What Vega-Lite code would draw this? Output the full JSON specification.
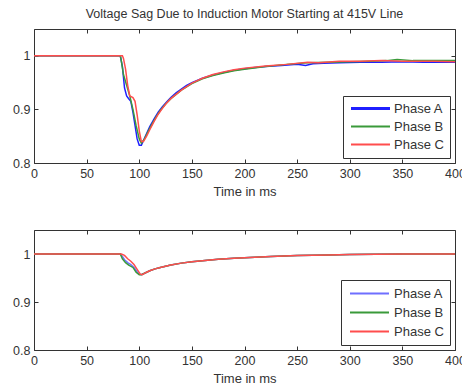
{
  "$schema": "https://vega.github.io/schema/vega-lite/v6.json",
  "padding": {"left": 12, "top": 7, "right": 0, "bottom": 0},
  "background": "white",
  "bounds": "flush",
  "spacing": 67,
  "datasets": {
    "top": [
      {"t":0,"v":1,"p":"Phase A"},{"t":82,"v":1,"p":"Phase A"},{"t":84,"v":0.98,"p":"Phase A"},{"t":86,"v":0.94,"p":"Phase A"},{"t":88,"v":0.925,"p":"Phase A"},{"t":90,"v":0.92,"p":"Phase A"},{"t":92,"v":0.915,"p":"Phase A"},{"t":94,"v":0.895,"p":"Phase A"},{"t":96,"v":0.87,"p":"Phase A"},{"t":98,"v":0.845,"p":"Phase A"},{"t":100,"v":0.833,"p":"Phase A"},{"t":102,"v":0.833,"p":"Phase A"},{"t":104,"v":0.842,"p":"Phase A"},{"t":107,"v":0.855,"p":"Phase A"},{"t":110,"v":0.868,"p":"Phase A"},{"t":114,"v":0.882,"p":"Phase A"},{"t":118,"v":0.895,"p":"Phase A"},{"t":122,"v":0.905,"p":"Phase A"},{"t":126,"v":0.914,"p":"Phase A"},{"t":130,"v":0.922,"p":"Phase A"},{"t":135,"v":0.931,"p":"Phase A"},{"t":140,"v":0.938,"p":"Phase A"},{"t":145,"v":0.945,"p":"Phase A"},{"t":150,"v":0.95,"p":"Phase A"},{"t":160,"v":0.958,"p":"Phase A"},{"t":170,"v":0.964,"p":"Phase A"},{"t":180,"v":0.969,"p":"Phase A"},{"t":190,"v":0.973,"p":"Phase A"},{"t":200,"v":0.976,"p":"Phase A"},{"t":210,"v":0.978,"p":"Phase A"},{"t":220,"v":0.98,"p":"Phase A"},{"t":235,"v":0.982,"p":"Phase A"},{"t":250,"v":0.984,"p":"Phase A"},{"t":258,"v":0.982,"p":"Phase A"},{"t":265,"v":0.985,"p":"Phase A"},{"t":275,"v":0.986,"p":"Phase A"},{"t":290,"v":0.987,"p":"Phase A"},{"t":310,"v":0.988,"p":"Phase A"},{"t":330,"v":0.988,"p":"Phase A"},{"t":350,"v":0.989,"p":"Phase A"},{"t":370,"v":0.988,"p":"Phase A"},{"t":400,"v":0.988,"p":"Phase A"},
      {"t":0,"v":1,"p":"Phase B"},{"t":82,"v":1,"p":"Phase B"},{"t":83,"v":0.99,"p":"Phase B"},{"t":85,"v":0.965,"p":"Phase B"},{"t":88,"v":0.945,"p":"Phase B"},{"t":91,"v":0.925,"p":"Phase B"},{"t":94,"v":0.9,"p":"Phase B"},{"t":97,"v":0.87,"p":"Phase B"},{"t":100,"v":0.845,"p":"Phase B"},{"t":102,"v":0.837,"p":"Phase B"},{"t":105,"v":0.845,"p":"Phase B"},{"t":108,"v":0.857,"p":"Phase B"},{"t":112,"v":0.872,"p":"Phase B"},{"t":116,"v":0.886,"p":"Phase B"},{"t":120,"v":0.898,"p":"Phase B"},{"t":125,"v":0.91,"p":"Phase B"},{"t":130,"v":0.92,"p":"Phase B"},{"t":140,"v":0.936,"p":"Phase B"},{"t":150,"v":0.948,"p":"Phase B"},{"t":160,"v":0.957,"p":"Phase B"},{"t":170,"v":0.963,"p":"Phase B"},{"t":180,"v":0.968,"p":"Phase B"},{"t":190,"v":0.972,"p":"Phase B"},{"t":200,"v":0.975,"p":"Phase B"},{"t":220,"v":0.98,"p":"Phase B"},{"t":240,"v":0.984,"p":"Phase B"},{"t":260,"v":0.987,"p":"Phase B"},{"t":280,"v":0.988,"p":"Phase B"},{"t":300,"v":0.989,"p":"Phase B"},{"t":320,"v":0.99,"p":"Phase B"},{"t":335,"v":0.991,"p":"Phase B"},{"t":345,"v":0.993,"p":"Phase B"},{"t":360,"v":0.991,"p":"Phase B"},{"t":380,"v":0.991,"p":"Phase B"},{"t":400,"v":0.991,"p":"Phase B"},
      {"t":0,"v":1,"p":"Phase C"},{"t":84,"v":1,"p":"Phase C"},{"t":85,"v":0.995,"p":"Phase C"},{"t":87,"v":0.975,"p":"Phase C"},{"t":89,"v":0.945,"p":"Phase C"},{"t":91,"v":0.925,"p":"Phase C"},{"t":94,"v":0.922,"p":"Phase C"},{"t":96,"v":0.915,"p":"Phase C"},{"t":98,"v":0.89,"p":"Phase C"},{"t":100,"v":0.86,"p":"Phase C"},{"t":102,"v":0.84,"p":"Phase C"},{"t":104,"v":0.84,"p":"Phase C"},{"t":107,"v":0.85,"p":"Phase C"},{"t":110,"v":0.862,"p":"Phase C"},{"t":114,"v":0.877,"p":"Phase C"},{"t":118,"v":0.891,"p":"Phase C"},{"t":122,"v":0.902,"p":"Phase C"},{"t":126,"v":0.912,"p":"Phase C"},{"t":130,"v":0.92,"p":"Phase C"},{"t":140,"v":0.936,"p":"Phase C"},{"t":150,"v":0.949,"p":"Phase C"},{"t":160,"v":0.958,"p":"Phase C"},{"t":170,"v":0.965,"p":"Phase C"},{"t":180,"v":0.97,"p":"Phase C"},{"t":190,"v":0.974,"p":"Phase C"},{"t":200,"v":0.977,"p":"Phase C"},{"t":220,"v":0.981,"p":"Phase C"},{"t":240,"v":0.984,"p":"Phase C"},{"t":260,"v":0.988,"p":"Phase C"},{"t":270,"v":0.987,"p":"Phase C"},{"t":290,"v":0.99,"p":"Phase C"},{"t":310,"v":0.99,"p":"Phase C"},{"t":330,"v":0.991,"p":"Phase C"},{"t":350,"v":0.99,"p":"Phase C"},{"t":380,"v":0.99,"p":"Phase C"},{"t":400,"v":0.989,"p":"Phase C"}
    ],
    "bottom": [
      {"t":0,"v":1,"p":"Phase A"},{"t":82,"v":1,"p":"Phase A"},{"t":84,"v":0.995,"p":"Phase A"},{"t":86,"v":0.988,"p":"Phase A"},{"t":89,"v":0.982,"p":"Phase A"},{"t":92,"v":0.978,"p":"Phase A"},{"t":95,"v":0.972,"p":"Phase A"},{"t":98,"v":0.963,"p":"Phase A"},{"t":100,"v":0.958,"p":"Phase A"},{"t":102,"v":0.957,"p":"Phase A"},{"t":105,"v":0.96,"p":"Phase A"},{"t":110,"v":0.965,"p":"Phase A"},{"t":115,"v":0.969,"p":"Phase A"},{"t":120,"v":0.972,"p":"Phase A"},{"t":130,"v":0.977,"p":"Phase A"},{"t":140,"v":0.981,"p":"Phase A"},{"t":150,"v":0.984,"p":"Phase A"},{"t":160,"v":0.986,"p":"Phase A"},{"t":175,"v":0.989,"p":"Phase A"},{"t":190,"v":0.991,"p":"Phase A"},{"t":200,"v":0.992,"p":"Phase A"},{"t":225,"v":0.995,"p":"Phase A"},{"t":250,"v":0.997,"p":"Phase A"},{"t":280,"v":0.998,"p":"Phase A"},{"t":300,"v":0.999,"p":"Phase A"},{"t":350,"v":1,"p":"Phase A"},{"t":400,"v":1,"p":"Phase A"},
      {"t":0,"v":1,"p":"Phase B"},{"t":82,"v":1,"p":"Phase B"},{"t":84,"v":0.99,"p":"Phase B"},{"t":87,"v":0.982,"p":"Phase B"},{"t":90,"v":0.977,"p":"Phase B"},{"t":94,"v":0.972,"p":"Phase B"},{"t":97,"v":0.962,"p":"Phase B"},{"t":100,"v":0.957,"p":"Phase B"},{"t":102,"v":0.957,"p":"Phase B"},{"t":105,"v":0.96,"p":"Phase B"},{"t":110,"v":0.965,"p":"Phase B"},{"t":115,"v":0.969,"p":"Phase B"},{"t":120,"v":0.972,"p":"Phase B"},{"t":130,"v":0.977,"p":"Phase B"},{"t":140,"v":0.981,"p":"Phase B"},{"t":150,"v":0.984,"p":"Phase B"},{"t":160,"v":0.986,"p":"Phase B"},{"t":175,"v":0.989,"p":"Phase B"},{"t":190,"v":0.991,"p":"Phase B"},{"t":200,"v":0.992,"p":"Phase B"},{"t":225,"v":0.995,"p":"Phase B"},{"t":250,"v":0.997,"p":"Phase B"},{"t":280,"v":0.998,"p":"Phase B"},{"t":300,"v":0.999,"p":"Phase B"},{"t":350,"v":1,"p":"Phase B"},{"t":400,"v":1,"p":"Phase B"},
      {"t":0,"v":1,"p":"Phase C"},{"t":83,"v":1,"p":"Phase C"},{"t":86,"v":0.997,"p":"Phase C"},{"t":89,"v":0.99,"p":"Phase C"},{"t":92,"v":0.985,"p":"Phase C"},{"t":95,"v":0.978,"p":"Phase C"},{"t":98,"v":0.968,"p":"Phase C"},{"t":101,"v":0.958,"p":"Phase C"},{"t":103,"v":0.957,"p":"Phase C"},{"t":106,"v":0.961,"p":"Phase C"},{"t":110,"v":0.965,"p":"Phase C"},{"t":115,"v":0.969,"p":"Phase C"},{"t":120,"v":0.972,"p":"Phase C"},{"t":130,"v":0.977,"p":"Phase C"},{"t":140,"v":0.981,"p":"Phase C"},{"t":150,"v":0.984,"p":"Phase C"},{"t":160,"v":0.986,"p":"Phase C"},{"t":175,"v":0.989,"p":"Phase C"},{"t":190,"v":0.991,"p":"Phase C"},{"t":200,"v":0.992,"p":"Phase C"},{"t":225,"v":0.995,"p":"Phase C"},{"t":250,"v":0.997,"p":"Phase C"},{"t":280,"v":0.998,"p":"Phase C"},{"t":300,"v":0.999,"p":"Phase C"},{"t":350,"v":1,"p":"Phase C"},{"t":400,"v":1,"p":"Phase C"}
    ]
  },
  "config": {
    "font": "Liberation Sans",
    "view": {"stroke": "#333", "strokeWidth": 1},
    "axis": {
      "domain": false, "grid": false, "tickSize": -4, "tickColor": "#333", "labelPadding": 8, "labelFlush": false,
      "labelFont": "Liberation Sans", "labelFontSize": 12.5, "labelColor": "#333",
      "titleFont": "Liberation Sans", "titleFontSize": 13, "titleFontWeight": "normal", "titleColor": "#333"
    },
    "legend": {
      "orient": "bottom-right", "offset": 5, "strokeColor": "#333", "fillColor": "white",
      "padding": 6, "labelFont": "Liberation Sans", "labelFontSize": 13, "labelColor": "#333",
      "symbolType": "M-3,0H3", "symbolSize": 169, "symbolStrokeWidth": 2, "rowPadding": 4,
      "symbolOffset": 15, "labelOffset": 17
    },
    "title": {"font": "Liberation Sans", "fontSize": 12.5, "fontWeight": "normal", "color": "#333", "offset": 8}
  },
  "resolve": {"scale": {"color": "independent"}, "legend": {"color": "independent"}},
  "vconcat": [
    {
      "width": 421, "height": 134,
      "title": {"text": "Voltage Sag Due to Induction Motor Starting at 415V Line", "anchor": "middle"},
      "data": {"name": "top"},
      "layer": [
        {
          "mark": {"type": "line", "strokeWidth": 1.5, "clip": true},
          "encoding": {
            "x": {"field": "t", "type": "quantitative", "scale": {"domain": [0, 400], "nice": false}, "axis": {"values": [0,50,100,150,200,250,300,350,400], "title": "Time in ms", "titlePadding": 6}},
            "y": {"field": "v", "type": "quantitative", "scale": {"domain": [0.8, 1.05], "nice": false, "zero": false}, "axis": {"values": [0.8, 0.9, 1], "format": ".1~f", "title": null}},
            "color": {"field": "p", "type": "nominal", "scale": {"domain": ["Phase A", "Phase B", "Phase C"], "range": ["#1f1fff", "#3a9a3a", "#ff4d4d"]}, "legend": {"title": null, "encode": {"symbols": {"update": {"strokeWidth": {"signal": "datum.label === 'Phase A' ? 3 : 1.8"}}}}}}
          }
        },
        {
          "mark": {"type": "point", "opacity": 0},
          "encoding": {
            "x": {"field": "t", "type": "quantitative", "axis": {"orient": "top", "labels": false, "values": [0,50,100,150,200,250,300,350,400], "title": null}},
            "y": {"field": "v", "type": "quantitative", "axis": {"orient": "right", "labels": false, "values": [0.8, 0.9, 1], "title": null}}
          }
        }
      ],
      "resolve": {"axis": {"x": "independent", "y": "independent"}}
    },
    {
      "width": 421, "height": 120,
      "data": {"name": "bottom"},
      "layer": [
        {
          "mark": {"type": "line", "strokeWidth": 1.5, "clip": true},
          "encoding": {
            "x": {"field": "t", "type": "quantitative", "scale": {"domain": [0, 400], "nice": false}, "axis": {"values": [0,50,100,150,200,250,300,350,400], "title": "Time in ms", "titlePadding": 6}},
            "y": {"field": "v", "type": "quantitative", "scale": {"domain": [0.8, 1.05], "nice": false, "zero": false}, "axis": {"values": [0.8, 0.9, 1], "format": ".1~f", "title": null}},
            "color": {"field": "p", "type": "nominal", "scale": {"domain": ["Phase A", "Phase B", "Phase C"], "range": ["#6f6fff", "#3a9a3a", "#ff4d4d"]}, "legend": {"title": null}}
          }
        },
        {
          "mark": {"type": "point", "opacity": 0},
          "encoding": {
            "x": {"field": "t", "type": "quantitative", "axis": {"orient": "top", "labels": false, "values": [0,50,100,150,200,250,300,350,400], "title": null}},
            "y": {"field": "v", "type": "quantitative", "axis": {"orient": "right", "labels": false, "values": [0.8, 0.9, 1], "title": null}}
          }
        }
      ],
      "resolve": {"axis": {"x": "independent", "y": "independent"}}
    }
  ]
}
